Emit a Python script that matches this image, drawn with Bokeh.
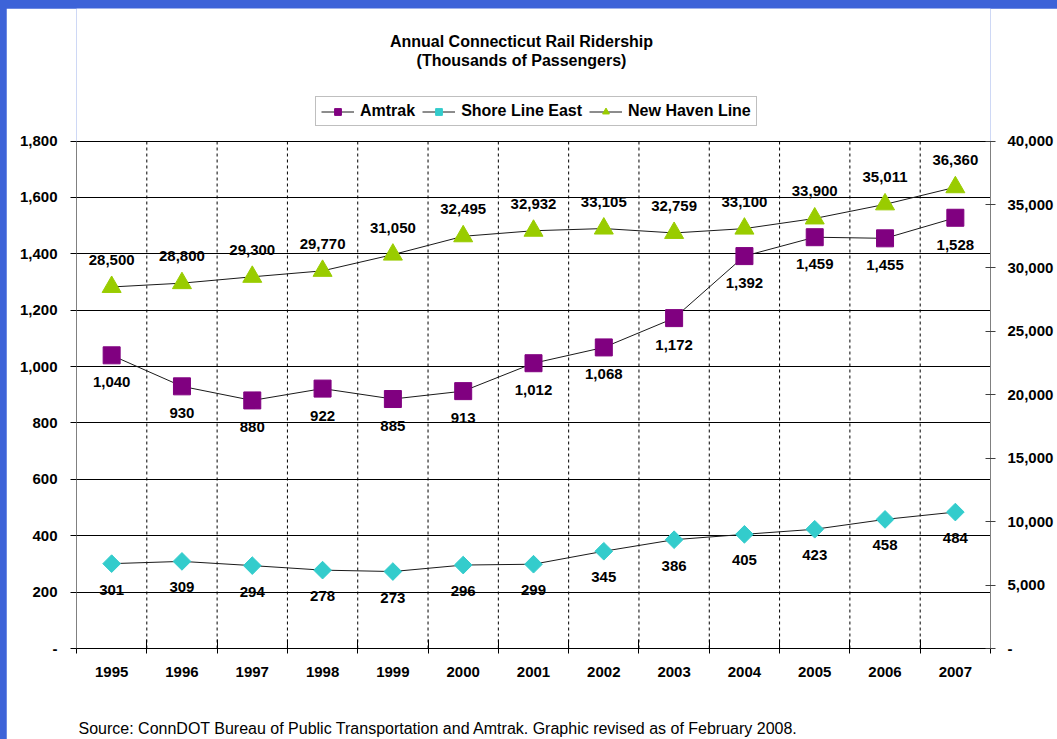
from bokeh.plotting import figure
from bokeh.models import (ColumnDataSource, LinearAxis, Range1d, FixedTicker, Title,
                          NumeralTickFormatter, Legend, LegendItem, LabelSet, Label)
from bokeh.core.properties import value
from bokeh.embed import file_html
from bokeh.resources import INLINE
import math

# ---- data ----
years = ["1995", "1996", "1997", "1998", "1999", "2000", "2001",
         "2002", "2003", "2004", "2005", "2006", "2007"]
amtrak = [1040, 930, 880, 922, 885, 913, 1012, 1068, 1172, 1392, 1459, 1455, 1528]
shore_line_east = [301, 309, 294, 278, 273, 296, 299, 345, 386, 405, 423, 458, 484]
new_haven_line = [28500, 28800, 29300, 29770, 31050, 32495, 32932, 33105,
                  32759, 33100, 33900, 35011, 36360]
left_ticks = [0, 200, 400, 600, 800, 1000, 1200, 1400, 1600, 1800]
right_ticks = [0, 5000, 10000, 15000, 20000, 25000, 30000, 35000, 40000]
source_note = "Source: ConnDOT Bureau of Public Transportation and Amtrak.  Graphic revised as of February 2008."

FONT = "Liberation Sans"
PURPLE = "#800080"
CYAN = "#33CCCC"
GREEN = "#99CC00"
LINE = "#1a1a1a"

# layout (pixels)
W, H = 1051, 731
FRAME_TOP_PX = 133      # where the 1,800 / 40,000 line sits, from the top of the figure
FRAME_BOTTOM = 89
PLOT_H = H - FRAME_BOTTOM  # frame height in px (frame starts at figure top)

LEFT_MAX = left_ticks[-1]
RIGHT_MAX = right_ticks[-1]
scale_px = PLOT_H - FRAME_TOP_PX
left_top = LEFT_MAX * PLOT_H / scale_px
right_top = RIGHT_MAX * PLOT_H / scale_px

xs = list(range(len(years)))
bounds_x = [i + 0.5 for i in range(len(years) - 1)]

def fmt(v):
    return f"{v:,}"

src_a = ColumnDataSource(dict(x=xs, y=amtrak, t=[fmt(v) for v in amtrak]))
src_s = ColumnDataSource(dict(x=xs, y=shore_line_east, t=[fmt(v) for v in shore_line_east]))
src_n = ColumnDataSource(dict(x=xs, y=new_haven_line, t=[fmt(v) for v in new_haven_line]))
src_g = ColumnDataSource(dict(x=bounds_x, y0=[0] * len(bounds_x), y1=[LEFT_MAX] * len(bounds_x)))

p = figure(width=W, height=H, output_backend="svg", toolbar_location=None,
           x_range=Range1d(-0.5, len(years) - 0.5), y_range=Range1d(0, left_top),
           min_border_left=70, min_border_right=67, min_border_top=0,
           min_border_bottom=FRAME_BOTTOM)
p.title.visible = False
p.extra_y_ranges = {"right": Range1d(0, right_top)}
p.outline_line_color = None
p.background_fill_color = "white"
p.border_fill_color = "white"

# grids
p.ygrid.ticker = FixedTicker(ticks=left_ticks)
p.ygrid.grid_line_color = "black"
p.ygrid.grid_line_width = 1
p.xgrid.visible = False
p.segment(x0="x", y0="y0", x1="x", y1="y1", source=src_g, line_color="black",
          line_width=1, line_dash="3 3", level="underlay")

# left axis
ya = p.yaxis[0]
ya.bounds = (0, LEFT_MAX)
ya.ticker = FixedTicker(ticks=left_ticks)
ya.formatter = NumeralTickFormatter(format="0,0")
ya.major_label_overrides = {0: "-"}
ya.axis_line_color = "#808080"
ya.major_tick_line_color = "black"
ya.major_tick_in = 0
ya.major_tick_out = 6
ya.minor_tick_line_color = None
ya.major_label_standoff = 13
ya.major_label_text_font = FONT
ya.major_label_text_font_style = "bold"
ya.major_label_text_font_size = "15px"
ya.major_label_text_color = "black"

# bottom axis (a blank axis label reserves the room above the source note)
xa = p.xaxis[0]
xa.ticker = FixedTicker(ticks=xs, minor_ticks=[i - 0.5 for i in range(len(years) + 1)])
xa.major_label_overrides = {i: y for i, y in zip(xs, years)}
xa.axis_line_color = "black"
xa.major_tick_line_color = None
xa.minor_tick_line_color = "black"
xa.minor_tick_in = 9
xa.minor_tick_out = 5
xa.major_label_standoff = 12
xa.major_label_text_font = FONT
xa.major_label_text_font_style = "bold"
xa.major_label_text_font_size = "15px"
xa.major_label_text_color = "black"
xa.axis_label = " "
xa.axis_label_standoff = 15
xa.axis_label_text_font = FONT
xa.axis_label_text_font_style = "normal"
xa.axis_label_text_font_size = "16px"

# right axis
ra = LinearAxis(y_range_name="right", ticker=FixedTicker(ticks=right_ticks),
                formatter=NumeralTickFormatter(format="0,0"), bounds=(0, RIGHT_MAX))
ra.major_label_overrides = {0: "-"}
ra.axis_line_color = "#808080"
ra.major_tick_line_color = "#404040"
ra.major_tick_in = 5
ra.major_tick_out = 5
ra.minor_tick_line_color = None
ra.major_label_standoff = 12
ra.major_label_text_font = FONT
ra.major_label_text_font_style = "bold"
ra.major_label_text_font_size = "15px"
ra.major_label_text_color = "black"
p.add_layout(ra, "right")

# series
la = p.line("x", "y", source=src_a, line_color=LINE, line_width=1)
sa = p.scatter("x", "y", source=src_a, marker="square", size=17,
               fill_color=PURPLE, line_color=PURPLE)
ls = p.line("x", "y", source=src_s, line_color=LINE, line_width=1)
ss = p.scatter("x", "y", source=src_s, marker="square", angle=math.pi / 4, size=12.5,
               fill_color=CYAN, line_color=CYAN)
ln = p.line("x", "y", source=src_n, line_color=LINE, line_width=1, y_range_name="right")
sn = p.scatter("x", "y", source=src_n, marker="triangle", size=19,
               fill_color=GREEN, line_color=GREEN, y_range_name="right")

lab_kw = dict(text_font=value(FONT), text_font_style="bold", text_font_size="15px",
              text_color="black", text_align="center", text_baseline="middle")
p.add_layout(LabelSet(x="x", y="y", text="t", source=src_a, y_offset=-27, **lab_kw))
p.add_layout(LabelSet(x="x", y="y", text="t", source=src_s, y_offset=-26, **lab_kw))
p.add_layout(LabelSet(x="x", y="y", text="t", source=src_n, y_offset=27,
                      y_range_name="right", **lab_kw))

# legend
legend = Legend(items=[LegendItem(label="Amtrak", renderers=[la, sa]),
                       LegendItem(label="Shore Line East", renderers=[ls, ss]),
                       LegendItem(label="New Haven Line", renderers=[ln, sn])],
                orientation="horizontal", location=(239, 522),
                label_text_font=FONT, label_text_font_style="bold",
                label_text_font_size="16px", label_text_color="black",
                glyph_width=33, glyph_height=17, label_height=17, label_standoff=6,
                spacing=7, padding=5, margin=0,
                border_line_color="#808080", border_line_width=1,
                background_fill_color="white", background_fill_alpha=1.0)
p.add_layout(legend)

# titles
title_kw = dict(text_font=FONT, text_font_style="bold", text_font_size="16px",
                text_color="black", text_align="center", text_baseline="middle")
p.add_layout(Label(x=6, y=LEFT_MAX, x_offset=-12, y_offset=100,
                   text="Annual Connecticut Rail Ridership", **title_kw))
p.add_layout(Label(x=6, y=LEFT_MAX, x_offset=-12, y_offset=81,
                   text="(Thousands of Passengers)", **title_kw))

# source note, left-aligned below the axis
p.add_layout(Title(text=source_note, align="left", offset=2, standoff=6,
                   text_font=FONT, text_font_size="16px", text_font_style="normal",
                   text_color="black"), "below")

TEMPLATE = """{% block preamble %}<style>html, body { background: #3d63d8 !important; } body { padding: 8px 0 0 6px !important; }</style>{% endblock %}"""

open("out.html", "w").write(file_html(p, INLINE, template=TEMPLATE))
